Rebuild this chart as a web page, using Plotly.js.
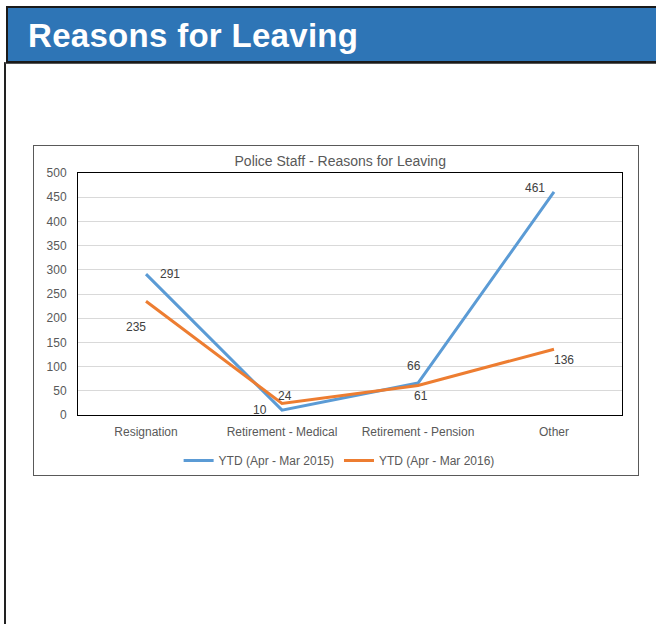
<!DOCTYPE html>
<html>
<head>
<meta charset="utf-8">
<script src="https://cdn.plot.ly/plotly-3.0.1.min.js"></script>
<style>
  html, body { margin: 0; padding: 0; width: 656px; height: 624px; background: #ffffff; overflow: hidden; }
  #frame { position: absolute; left: 4px; top: 62px; width: 660px; height: 570px; border-left: 2px solid #222; border-top: 2px solid #555; box-sizing: border-box; }
  #header { position: absolute; left: 6px; top: 6px; width: 660px; height: 57px; background: #2E75B6; border: 2px solid #1a1a1a; box-sizing: border-box; }
  #header span { position: absolute; left: 20px; top: 9px; color: #ffffff; font-family: "Liberation Sans", Arial, sans-serif; font-weight: bold; font-size: 33px; letter-spacing: 0.3px; }
  #chart { position: absolute; left: 33px; top: 145px; width: 606px; height: 331px; border: 1px solid #595959; box-sizing: border-box; background: #fff; }
</style>
</head>
<body>
<div id="frame"></div>
<div id="header"><span>Reasons for Leaving</span></div>
<div id="chart"></div>
<script>
const categories = ["Resignation", "Retirement - Medical", "Retirement - Pension", "Other"];
const ytd2015 = [291, 10, 66, 461];
const ytd2016 = [235, 24, 61, 136];
const seriesNames = ["YTD (Apr - Mar 2015)", "YTD (Apr - Mar 2016)"];
const colors = ["#5B9BD5", "#ED7D31"];
// label offsets (pixels) for data labels
const offs2015 = [[24, 0], [-22, 0], [-4, 17], [-19, 4]];
const offs2016 = [[-10, -26], [3, 7], [3, -11], [10, -11]];

const traces = [ytd2015, ytd2016].map((vals, i) => ({
  type: "scatter", mode: "lines", x: categories, y: vals, name: seriesNames[i],
  line: { color: colors[i], width: 3 }, hoverinfo: "none"
}));

const annotations = [];
[[ytd2015, offs2015], [ytd2016, offs2016]].forEach(([vals, offs]) => {
  vals.forEach((v, j) => annotations.push({
    x: categories[j], y: v, xref: "x", yref: "y", text: String(v), showarrow: false,
    xshift: offs[j][0], yshift: offs[j][1],
    font: { family: "Liberation Sans, Arial, sans-serif", size: 12, color: "#404040" }
  }));
});

const layout = {
  width: 604, height: 329,
  margin: { l: 44, r: 16, t: 27, b: 60, autoexpand: false },
  paper_bgcolor: "#ffffff", plot_bgcolor: "#ffffff",
  title: { text: "Police Staff - Reasons for Leaving", x: 0.507, xanchor: "center", y: 0.955, yanchor: "middle",
           font: { family: "Liberation Sans, Arial, sans-serif", size: 14, color: "#595959" } },
  xaxis: { type: "category", range: [-0.5, 3.5], showgrid: false, showline: true, mirror: true,
           linecolor: "#000000", linewidth: 1, ticks: "outside", ticklen: 6, tickcolor: "rgba(0,0,0,0)",
           tickfont: { family: "Liberation Sans, Arial, sans-serif", size: 12, color: "#595959" } },
  yaxis: { range: [0, 500], dtick: 50, showgrid: true, gridcolor: "#d9d9d9", zeroline: false,
           showline: true, mirror: true, linecolor: "#000000", linewidth: 1, ticks: "outside", ticklen: 8, tickcolor: "rgba(0,0,0,0)",
           tickfont: { family: "Liberation Sans, Arial, sans-serif", size: 12, color: "#595959" } },
  showlegend: true,
  legend: { orientation: "h", x: 0.48, xanchor: "center", y: -0.128, yanchor: "top",
            font: { family: "Liberation Sans, Arial, sans-serif", size: 12, color: "#595959" } },
  annotations: annotations
};
Plotly.newPlot("chart", traces, layout, { displayModeBar: false, staticPlot: true });
</script>
</body>
</html>
